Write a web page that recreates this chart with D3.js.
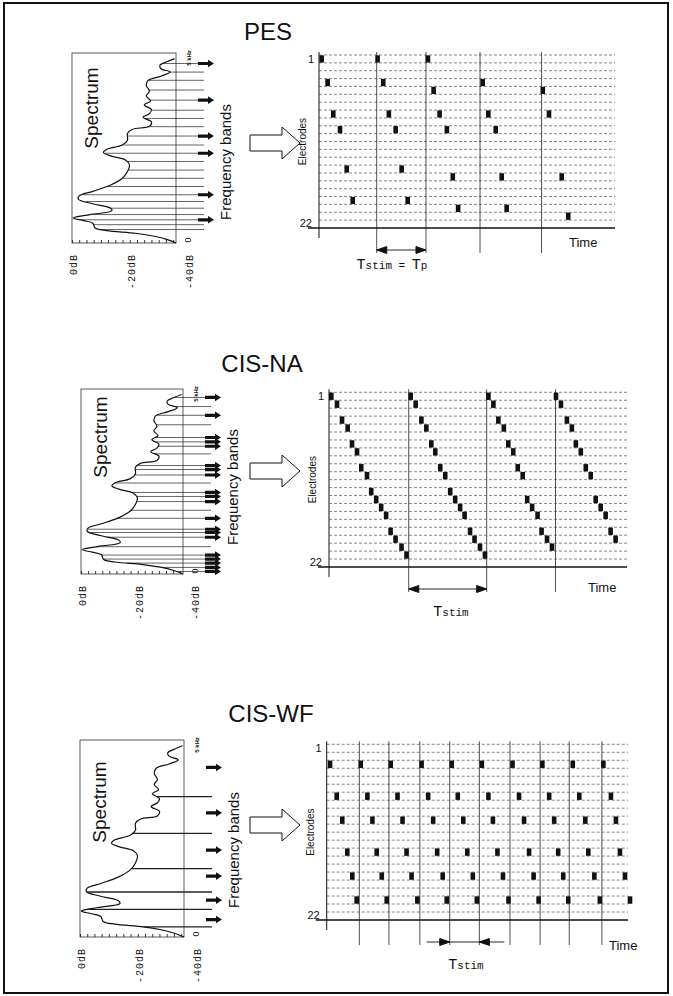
<!DOCTYPE html>
<html>
<head>
<meta charset="utf-8">
<script src="https://cdn.jsdelivr.net/npm/d3@7"></script>
<style>
body { margin: 0; background: #fff; }
svg { display: block; }
text { font-family: "Liberation Sans", Arial, sans-serif; fill: #111; }
.mono { font-family: "Liberation Mono", "Courier New", monospace; }
</style>
</head>
<body>
<svg width="673" height="996"></svg>
<script>
// spectrum shape, same for the three strategies (kHz, dB)
const specFreq = [0, 0.09, 0.18, 0.26, 0.33, 0.40, 0.53, 0.60, 0.67, 0.76, 0.86, 0.93, 1.05, 1.17, 1.26,
  1.38, 1.55, 1.73, 1.91, 2.09, 2.22, 2.33, 2.42, 2.50, 2.62, 2.75, 2.93, 3.04, 3.12, 3.24,
  3.36, 3.46, 3.57, 3.69, 3.80, 3.93, 4.06, 4.22, 4.35, 4.46, 4.57, 4.66, 4.75, 4.84, 4.93];
const specLevel = [-36, -33, -28.5, -22, -12, -8, -7.2, -4, -0.4, -6.2, -13.8, -13.4, -7.2, -2.2, -2.5,
  -7.2, -13.4, -17.4, -19.2, -19.9, -18.5, -13.4, -10.9, -11.9, -17.4, -19.2, -19.2, -21, -26.8, -27.5,
  -24.6, -26.8, -27.5, -25, -27.2, -25.7, -26.8, -25.7, -26.4, -30.8, -34, -30.8, -30.4, -32.6, -35.5];

// frequency band lines and arrows (kHz)
const pesBands = [0.36, 0.49, 0.62, 0.76, 0.93, 1.11, 1.29, 1.51, 1.73, 1.95, 2.18, 2.40, 2.62, 2.86, 3.11,
  3.33, 3.55, 3.82, 4.09, 4.35, 4.57, 4.80];
const pesArrows = [0.62, 1.29, 2.40, 2.86, 3.82, 4.80];
const naBands = [0.07, 0.18, 0.30, 0.41, 0.52, 0.75, 1.01, 1.14, 1.23, 1.53, 1.75, 1.99, 2.13, 2.24, 2.50,
  2.72, 2.87, 2.98, 3.30, 3.51, 3.63, 3.75, 4.10, 4.36, 4.60, 4.85];
const naArrows = [0.07, 0.18, 0.30, 0.41, 0.52, 1.01, 1.14, 1.23, 1.53, 1.99, 2.13, 2.24, 2.72, 2.87, 2.98,
  3.51, 3.63, 3.75, 4.36, 4.85];
const wfBands = [0.26, 0.71, 1.16, 1.76, 2.67, 3.62];
const wfArrows = [0.45, 0.95, 1.57, 2.24, 3.20, 4.37];
const dbLabels = [0, -20, -40];
const electrodes = d3.range(1, 23);

// stimulation patterns: frame boundaries, pulse times, pulse electrodes
const pesFrames = [9.75, 18.07, 27.2, 37.6];
const pesTimes = [0.45, 1.46, 2.41, 3.55, 4.68, 5.69,
  9.9, 10.85, 11.8, 12.95, 13.96, 14.98,
  18.4, 19.36, 20.37, 21.6, 22.6, 23.5,
  27.65, 28.6, 29.85, 30.86, 31.7,
  37.8, 38.85, 41.0, 42.1];
const pesElectrodes = [1, 4, 8, 10, 15, 19,
  1, 4, 8, 10, 15, 19,
  1, 5, 8, 10, 16, 20,
  4, 8, 10, 16, 20,
  5, 8, 16, 21];

const naFrames = [16.05, 31.75, 45.6];
const naTimes = [0.47, 1.61, 2.62, 3.76, 4.63, 5.64, 6.5, 7.65, 8.5, 9.5, 10.5, 11.5, 12.4, 13.4, 14.6, 15.6,
  16.45, 17.45, 18.6, 19.6, 20.6, 21.4, 22.4, 23.4, 24.4, 25.4, 26.4, 27.3, 28.4, 29.3, 30.4, 31.4,
  32.1, 33.1, 34.1, 35.2, 36.1, 37.1, 38.0, 39.0, 39.9, 40.9, 42.0, 42.8, 43.9, 44.9,
  45.7, 46.7, 47.9, 48.9, 49.7, 50.7, 51.7, 52.7, 53.7, 54.7, 55.7, 56.7, 57.7];
const naElectrodes = [1, 2, 4, 5, 7, 8, 10, 11, 13, 14, 15, 16, 18, 19, 20, 21,
  1, 2, 4, 5, 7, 8, 10, 11, 13, 14, 15, 16, 18, 19, 20, 21,
  1, 2, 4, 5, 7, 8, 10, 11, 14, 15, 16, 18, 19, 20,
  1, 2, 4, 5, 7, 8, 10, 11, 14, 15, 16, 18, 19];

const wfFrames = [6.5, 12.4, 18.55, 24.5, 30.4, 36.5, 42.5, 48.3, 54.8];
const wfTimes = [0.66, 1.99, 3.1, 4.1, 5.1, 5.97,
  6.77, 8.1, 9.1, 9.96, 10.96, 11.95,
  12.75, 14.1, 15.1, 15.9, 16.9, 18.05,
  18.9, 20.2, 21.2, 22.0, 23.1, 23.9,
  24.9, 26.1, 27.2, 28.0, 29.1, 29.9,
  30.9, 32.2, 33.1, 34.0, 35.1, 36.2,
  37.0, 38.3, 39.3, 40.3, 41.2, 42.2,
  42.95, 44.3, 45.3, 46.1, 47.1, 48.1,
  49.0, 50.3, 51.5, 52.1, 53.3, 54.4,
  55.1, 56.6, 57.6, 58.4, 59.4, 60.4];
const wfElectrodes = [3, 7, 10, 14, 17, 20, 3, 7, 10, 14, 17, 20, 3, 7, 10, 14, 17, 20, 3, 7, 10, 14, 17, 20,
  3, 7, 10, 14, 17, 20, 3, 7, 10, 14, 17, 20, 3, 7, 10, 14, 17, 20, 3, 7, 10, 14, 17, 20,
  3, 7, 10, 14, 17, 20, 3, 7, 10, 14, 17, 20];

// layout of the three panels
const panels = [
  { title: "PES", tx: 268, ty: 40, box: [72, 53, 104, 190], specY: 108, fbY: 162, bigY: 143,
    grid: [319, 615, 55, 228], tMax: 50, bands: pesBands, arrows: pesArrows, bandW: 0.7,
    frames: pesFrames, times: pesTimes, elec: pesElectrodes, span: [0, 1], inward: false,
    tl: [392, 269], timeL: [569, 247], sub: true },
  { title: "CIS-NA", tx: 262, ty: 372, box: [81, 389, 102, 185], specY: 437, fbY: 487, bigY: 471,
    grid: [329, 627, 392.3, 567], tMax: 60, bands: naBands, arrows: naArrows, bandW: 0.7,
    frames: naFrames, times: naTimes, elec: naElectrodes, span: [0, 1], inward: false,
    tl: [451, 616], timeL: [588, 592], sub: false },
  { title: "CIS-WF", tx: 271, ty: 722, box: [80, 740, 104, 197], specY: 802, fbY: 850, bigY: 825,
    grid: [326.7, 628, 744.3, 920], tMax: 60, bands: wfBands, arrows: wfArrows, bandW: 1.3,
    frames: wfFrames, times: wfTimes, elec: wfElectrodes, span: [3, 4], inward: true,
    tl: [466, 969], timeL: [609, 950], sub: false }
];

function levelAt(f) {
  const i = d3.bisectLeft(specFreq, f);
  if (i <= 0) return specLevel[0];
  if (i >= specFreq.length) return specLevel[specLevel.length - 1];
  const k = (f - specFreq[i - 1]) / (specFreq[i] - specFreq[i - 1]);
  return specLevel[i - 1] + k * (specLevel[i] - specLevel[i - 1]);
}

const svg = d3.select("svg");

svg.append("rect")
  .attr("x", 4).attr("y", 3).attr("width", 664).attr("height", 990)
  .attr("fill", "none").attr("stroke", "#111").attr("stroke-width", 2);

panels.forEach(p => {
  const g = svg.append("g");
  const [bx, by, bw, bh] = p.box;
  const right = bx + bw;
  const xdb = d3.scaleLinear().domain([0, -40]).range([bx, bx + bw * 40 / 36]);
  const yf = d3.scaleLinear().domain([0, 5]).range([by + bh, by + 3]);

  g.append("text")
    .attr("x", p.tx).attr("y", p.ty)
    .attr("text-anchor", "middle").attr("font-size", 24)
    .text(p.title);

  // spectrum box with dB ticks along the bottom
  g.append("rect")
    .attr("x", bx).attr("y", by).attr("width", bw).attr("height", bh)
    .attr("fill", "none").attr("stroke", "#333").attr("stroke-width", 0.8);

  g.append("g")
    .attr("transform", `translate(0,${by + bh})`)
    .attr("color", "#333")
    .call(d3.axisTop(xdb).tickValues(d3.range(0, -36.1, -2.5)).tickSize(3).tickFormat(""))
    .call(a => a.select(".domain").remove());

  g.selectAll(".db")
    .data(dbLabels)
    .join("text")
    .attr("class", "mono")
    .attr("transform", d => `translate(${xdb(d) + 5},${by + bh + 11}) rotate(-90)`)
    .attr("text-anchor", "end")
    .attr("font-size", 10)
    .attr("letter-spacing", 1)
    .text(d => d + "dB");

  // band lines from the spectrum outward
  g.selectAll(".band")
    .data(p.bands)
    .join("line")
    .attr("x1", d => xdb(levelAt(d)))
    .attr("x2", right + 28)
    .attr("y1", d => yf(d))
    .attr("y2", d => yf(d))
    .attr("stroke", "#222")
    .attr("stroke-width", p.bandW);

  const line = d3.line()
    .x((d, i) => xdb(specLevel[i]))
    .y(d => yf(d))
    .curve(d3.curveCatmullRom.alpha(0.5));

  g.append("path")
    .attr("d", line(specFreq))
    .attr("fill", "none")
    .attr("stroke", "#111")
    .attr("stroke-width", 1.2);

  g.selectAll(".arrow")
    .data(p.arrows)
    .join("path")
    .attr("d", d => {
      const y = yf(d), xa = right + 22, xb = right + 38;
      return `M${xa},${y - 1.6}H${xb - 6}V${y - 3.8}L${xb},${y}L${xb - 6},${y + 3.8}V${y + 1.6}H${xa}Z`;
    })
    .attr("fill", "#111");

  g.append("text")
    .attr("transform", `translate(${bx + 26},${p.specY}) rotate(-90)`)
    .attr("text-anchor", "middle").attr("font-size", 19)
    .text("Spectrum");

  g.append("text")
    .attr("transform", `translate(${right + 55},${p.fbY}) rotate(-90)`)
    .attr("text-anchor", "middle").attr("font-size", 15)
    .text("Frequency bands");

  g.append("text")
    .attr("transform", `translate(${right + 15},${by + 5}) rotate(-90)`)
    .attr("text-anchor", "middle").attr("font-size", 6).attr("font-weight", "bold")
    .text("5 kHz");

  g.append("text")
    .attr("transform", `translate(${right + 15},${by + bh - 3}) rotate(-90)`)
    .attr("text-anchor", "middle").attr("font-size", 9)
    .text("0");

  // hollow arrow between spectrum and electrodes
  const ay = p.bigY;
  g.append("path")
    .attr("d", `M250,${ay - 8}H282V${ay - 16}L300,${ay}L282,${ay + 16}V${ay + 8}H250Z`)
    .attr("fill", "#fff").attr("stroke", "#111").attr("stroke-width", 1);

  // electrode grid
  const [gx0, gx1, gy0, gy1] = p.grid;
  const xt = d3.scaleLinear().domain([0, p.tMax]).range([gx0, gx1]);
  const ye = d3.scaleLinear().domain([1, 23]).range([gy0, gy1]);

  g.selectAll(".row")
    .data(electrodes)
    .join("line")
    .attr("x1", gx0).attr("x2", gx1)
    .attr("y1", d => ye(d)).attr("y2", d => ye(d))
    .attr("stroke", "#555").attr("stroke-width", 0.7)
    .attr("stroke-dasharray", "3,2");

  g.append("line")
    .attr("x1", gx0 - 11).attr("x2", gx1)
    .attr("y1", gy1).attr("y2", gy1)
    .attr("stroke", "#111").attr("stroke-width", 1.3);

  g.append("line")
    .attr("x1", gx0).attr("x2", gx0)
    .attr("y1", gy0 - 3).attr("y2", gy1 + 10)
    .attr("stroke", "#111").attr("stroke-width", 1);

  g.selectAll(".frame")
    .data(p.frames)
    .join("line")
    .attr("x1", d => xt(d)).attr("x2", d => xt(d))
    .attr("y1", gy0 - 3).attr("y2", gy1 + 25)
    .attr("stroke", "#222").attr("stroke-width", 0.8);

  g.selectAll(".pulse")
    .data(p.times.map((t, i) => ({ t, e: p.elec[i] })))
    .join("rect")
    .attr("x", d => xt(d.t) - 2.3)
    .attr("y", d => ye(d.e) + 0.3)
    .attr("width", 4.6)
    .attr("height", d => ye(d.e + 1) - ye(d.e) - 0.6)
    .attr("fill", "#111");

  g.append("text")
    .attr("x", gx0 - 5).attr("y", gy0 + 8)
    .attr("text-anchor", "end").attr("font-size", 11)
    .text("1");

  g.append("text")
    .attr("x", gx0 - 7).attr("y", gy1 - 1)
    .attr("text-anchor", "end").attr("font-size", 11)
    .text("22");

  g.append("text")
    .attr("transform", `translate(${gx0 - 13},${(gy0 + gy1) / 2}) rotate(-90)`)
    .attr("text-anchor", "middle").attr("font-size", 10)
    .text("Electrodes");

  g.append("text")
    .attr("x", p.timeL[0]).attr("y", p.timeL[1])
    .attr("font-size", 13)
    .text("Time");

  // stimulation period marker
  const xa = xt(p.frames[p.span[0]]), xb = xt(p.frames[p.span[1]]);
  const dy = gy1 + 22;
  const mark = g.append("g").attr("fill", "#111").attr("stroke", "#111");
  if (p.inward) {
    mark.append("line").attr("x1", xa - 23).attr("x2", xb + 25).attr("y1", dy).attr("y2", dy).attr("stroke-width", 0.9);
    mark.append("path").attr("d", `M${xa},${dy}L${xa - 10},${dy - 3.5}L${xa - 10},${dy + 3.5}Z`);
    mark.append("path").attr("d", `M${xb},${dy}L${xb + 10},${dy - 3.5}L${xb + 10},${dy + 3.5}Z`);
  } else {
    mark.append("line").attr("x1", xa).attr("x2", xb).attr("y1", dy).attr("y2", dy).attr("stroke-width", 0.9);
    mark.append("path").attr("d", `M${xa},${dy}L${xa + 10},${dy - 3.5}L${xa + 10},${dy + 3.5}Z`);
    mark.append("path").attr("d", `M${xb},${dy}L${xb - 10},${dy - 3.5}L${xb - 10},${dy + 3.5}Z`);
  }

  const tl = g.append("text")
    .attr("class", "mono")
    .attr("x", p.tl[0]).attr("y", p.tl[1])
    .attr("text-anchor", "middle");
  tl.append("tspan").attr("font-size", 15).text("T");
  tl.append("tspan").attr("font-size", 11).text("stim");
  if (p.sub) {
    tl.append("tspan").attr("font-size", 11).text(" = ");
    tl.append("tspan").attr("font-size", 15).text("T");
    tl.append("tspan").attr("font-size", 11).text("p");
  }
});
</script>
</body>
</html>
